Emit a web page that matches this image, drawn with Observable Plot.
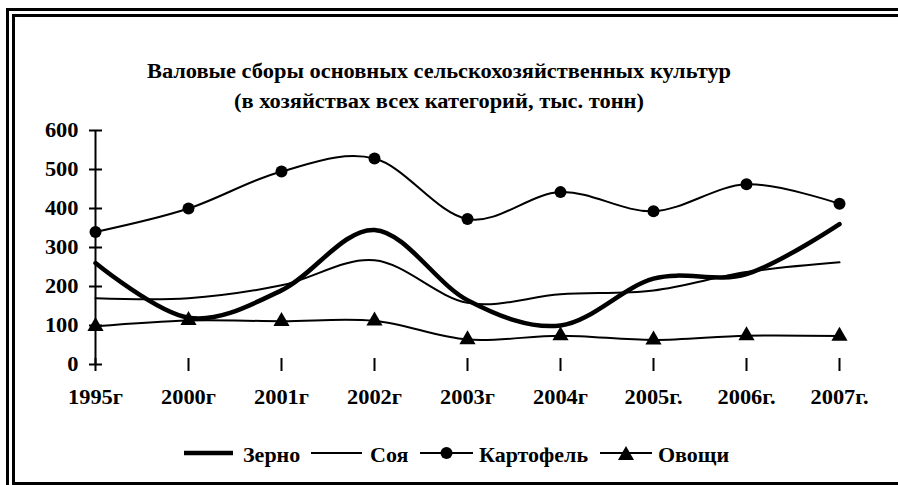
<!DOCTYPE html>
<html><head><meta charset="utf-8">
<script src="https://cdn.jsdelivr.net/npm/d3@7"></script>
<script src="https://cdn.jsdelivr.net/npm/@observablehq/plot@0.6"></script>
<style>
  html,body{margin:0;padding:0;width:898px;height:485px;overflow:hidden;background:#fff;font-family:"Liberation Serif","Times New Roman",serif;}
  #frame{position:absolute;left:6px;top:8px;width:904px;height:483px;border:9px double #000;box-sizing:border-box;}
  #title{position:absolute;left:0;top:56px;width:878px;text-align:center;font-weight:bold;font-size:20px;line-height:30px;color:#000;transform:scaleX(1.12);transform-origin:439px 0;}
  #chart{position:absolute;left:15px;top:110px;}
  #legend{position:absolute;left:0;top:0;width:898px;height:485px;pointer-events:none;}
  #legend svg{position:absolute;display:block;}
  #legend span{position:absolute;font-weight:bold;font-size:20px;line-height:22px;color:#000;white-space:nowrap;transform:scaleX(1.1);transform-origin:0 0;}
</style>
</head><body>
<div id="frame"></div>
<div id="title">Валовые сборы основных сельскохозяйственных культур<br>(в хозяйствах всех категорий, тыс. тонн)</div>
<div id="chart"></div>
<div id="legend"></div>
<script>
const years = ["1995г","2000г","2001г","2002г","2003г","2004г","2005г.","2006г.","2007г."];
const seriesNames = ["Зерно","Соя","Картофель","Овощи"];
const grain  = [260,120,190,345,165,100,220,232,360];
const soy    = [170,170,203,267,158,180,190,237,262];
const potato = [340,400,495,528,373,442,393,462,412];
const veg    = [98,113,111,112,64,74,63,74,73];
const yTicks = [0,100,200,300,400,500,600];

const seriesValues = [grain, soy, potato, veg];
const widths = {"Зерно":4.5,"Соя":2,"Картофель":2,"Овощи":2};
const symbols = {"Картофель":"circle","Овощи":"triangle"};

const rows = [];
seriesNames.forEach((s,i)=>years.forEach((y,j)=>rows.push({series:s, year:y, value:seriesValues[i][j]})));

const vTick = {draw(ctx){ctx.moveTo(0,-6.5);ctx.lineTo(0,6.5);}};
const hTick = {draw(ctx){ctx.moveTo(-6.5,0);ctx.lineTo(6.5,0);}};
const font = {fontFamily:"Liberation Serif, Times New Roman, serif", fontSize:20, fontWeight:"bold"};

const marks = [
  Plot.ruleY([0], {x1: years[0], x2: years[years.length-1], stroke:"#000", strokeWidth:2}),
  Plot.ruleX([years[0]], {y1: 0, y2: yTicks[yTicks.length-1], stroke:"#000", strokeWidth:2}),
  Plot.dot(years, {x: d=>d, y: ()=>0, symbol: vTick, fill:"none", stroke:"#000", strokeWidth:2}),
  Plot.dot(yTicks, {x: ()=>years[0], y: d=>d, symbol: hTick, fill:"none", stroke:"#000", strokeWidth:2}),
  Plot.axisX({ticks: years, tickSize:0, tickPadding:25, ...font, fill:"#000", label:null}),
  Plot.axisY({ticks: yTicks, tickSize:0, tickPadding:16, ...font, fill:"#000", label:null}),
];
seriesNames.forEach(s=>{
  marks.push(Plot.line(rows.filter(r=>r.series===s), {x:"year", y:"value", curve:"cardinal", tension:0, stroke:"#000", strokeWidth:widths[s]}));
});
seriesNames.forEach(s=>{
  if (symbols[s]) marks.push(Plot.dot(rows.filter(r=>r.series===s), {x:"year", y:"value", symbol:symbols[s], r:6, fill:"#000", stroke:"none"}));
});

const chart = Plot.plot({
  width: 883, height: 299,
  marginLeft: 79, marginRight: 59, marginTop: 20, marginBottom: 45,
  style: {background:"transparent", color:"#000", overflow:"visible"},
  x: {type:"point", domain: years, padding:0, axis:null},
  y: {domain:[0,600], axis:null},
  marks
});
document.getElementById("chart").appendChild(chart);

// widen tick label glyphs (reference text is horizontally stretched); scale about each label's anchor
d3.select(chart).selectAll("text").each(function(){
  const t = this.getAttribute("transform");
  if (t) this.setAttribute("transform", `${t} scale(1.12,1)`);
});

// legend
const legend = document.getElementById("legend");
const legendLayout = [
  {sx:184, sw:49, tx:243},
  {sx:311, sw:51, tx:370},
  {sx:420, sw:53, tx:479},
  {sx:600, sw:52, tx:658},
];
seriesNames.forEach((s,i)=>{
  const L = legendLayout[i];
  const W = L.sw;
  let inner = `<line x1="0" x2="${W}" y1="8" y2="8" stroke="#000" stroke-width="${widths[s]}"/>`;
  if (symbols[s]==="circle") inner += `<circle cx="${W/2}" cy="8" r="6" fill="#000"/>`;
  if (symbols[s]==="triangle") inner += `<path d="M${W/2},1 L${W/2+8},15 L${W/2-8},15 Z" fill="#000"/>`;
  const svg = document.createElementNS("http://www.w3.org/2000/svg","svg");
  svg.setAttribute("width", W); svg.setAttribute("height", 16);
  svg.style.left = L.sx + "px"; svg.style.top = "445px";
  svg.innerHTML = inner;
  legend.appendChild(svg);
  const span = document.createElement("span");
  span.textContent = s;
  span.style.left = L.tx + "px"; span.style.top = "444px";
  legend.appendChild(span);
});
</script>
</body></html>
